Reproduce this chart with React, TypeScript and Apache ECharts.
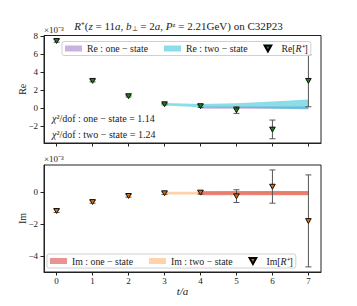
import React, { useEffect, useRef } from "react";
import * as echarts from "echarts";

// ---- data (values in units of 1e-3) ----
const tValues = [0, 1, 2, 3, 4, 5, 6, 7];
const reValues = [7.51, 3.07, 1.37, 0.47, 0.26, -0.19, -2.34, 3.07];
const reErrors = [0.15, 0.12, 0.1, 0.08, 0.15, 0.37, 1.04, 2.89];
const imValues = [-1.17, -0.61, -0.23, -0.06, -0.02, -0.25, 0.35, -1.8];
const imErrors = [0.1, 0.08, 0.08, 0.08, 0.1, 0.4, 1.04, 2.88];

const reOneT = [4, 5, 6, 7];
const reOneLo = [-0.05, -0.05, -0.05, -0.05];
const reOneHi = [0.22, 0.22, 0.22, 0.22];
const reTwoT = [3, 4, 5, 6, 7];
const reTwoLo = [0.33, 0.13, 0.08, -0.02, -0.13];
const reTwoHi = [0.6, 0.48, 0.56, 0.75, 0.98];

const imOneT = [4, 5, 6, 7];
const imOneLo = [-0.19, -0.19, -0.19, -0.19];
const imOneHi = [0.07, 0.07, 0.07, 0.07];
const imTwoT = [3, 4, 5, 6, 7];
const imTwoLo = [-0.14, -0.14, -0.15, -0.16, -0.17];
const imTwoHi = [0.02, 0.03, 0.04, 0.05, 0.06];

const xTicks = [0, 1, 2, 3, 4, 5, 6, 7];
const reTicks = [-2, 0, 2, 4, 6, 8];
const imTicks = [-4, -2, 0];

const FONT = "Liberation Serif";
const AXIS_COLOR = "#222";

const fmt = (v: number) => (v < 0 ? "\u2212" + Math.abs(v) : String(v));

function bandSeries(name: string, idx: number, ts: number[], lo: number[], hi: number[], color: string) {
  return {
    type: "custom",
    name,
    xAxisIndex: idx,
    yAxisIndex: idx,
    itemStyle: { color },
    data: ts.map((t, i) => [t, lo[i], hi[i]]),
    renderItem: (params: any, api: any) => {
      if (params.dataIndex !== 0) return null;
      const up = ts.map((t, i) => api.coord([t, hi[i]]));
      const dn = ts.map((t, i) => api.coord([t, lo[i]])).reverse();
      return {
        type: "polygon",
        shape: { points: up.concat(dn) },
        style: { fill: color, stroke: "none" },
      };
    },
  };
}

function errSeries(name: string, idx: number, vals: number[], errs: number[], color: string) {
  return {
    type: "custom",
    name,
    xAxisIndex: idx,
    yAxisIndex: idx,
    itemStyle: { color, borderColor: "#000", borderWidth: 0.6 },
    data: tValues.map((t, i) => [t, vals[i], errs[i]]),
    renderItem: (params: any, api: any) => {
      const t = api.value(0);
      const v = api.value(1);
      const e = api.value(2);
      const c = api.coord([t, v]);
      const top = api.coord([t, v + e]);
      const bot = api.coord([t, v - e]);
      const ls = { stroke: "#555", lineWidth: 1 };
      return {
        type: "group",
        children: [
          { type: "line", shape: { x1: c[0], y1: top[1], x2: c[0], y2: bot[1] }, style: ls },
          { type: "line", shape: { x1: c[0] - 3, y1: top[1], x2: c[0] + 3, y2: top[1] }, style: ls },
          { type: "line", shape: { x1: c[0] - 3, y1: bot[1], x2: c[0] + 3, y2: bot[1] }, style: ls },
          {
            type: "polygon",
            shape: { points: [[c[0] - 2.8, c[1] - 2.3], [c[0] + 2.8, c[1] - 2.3], [c[0], c[1] + 2.6]] },
            style: { fill: color, stroke: "#111", lineWidth: 1 },
          },
        ],
      };
    },
  };
}

export default function App() {
  const ref = useRef<HTMLDivElement>(null);
  useEffect(() => {
    if (!ref.current) return;
    const chart = echarts.init(ref.current, null, { renderer: "svg" });

    const xAxisBase = (gridIndex: number, showLabels: boolean) => ({
      type: "value",
      gridIndex,
      min: -0.35,
      max: 7.35,
      splitLine: { show: false },
      axisLine: { show: true, onZero: false, lineStyle: { color: AXIS_COLOR, width: 1 } },
      axisTick: { show: true, customValues: xTicks, length: 3.5, lineStyle: { color: AXIS_COLOR } },
      axisLabel: {
        show: showLabels,
        customValues: xTicks,
        margin: 4,
        fontFamily: FONT,
        fontSize: 9,
        color: "#222",
        formatter: fmt,
      },
      name: showLabels ? "t/a" : "",
      nameLocation: "middle",
      nameGap: 13,
      nameMoveOverlap: false,
      nameTextStyle: { fontFamily: FONT, fontSize: 11, fontStyle: "italic", color: "#222" },
    });

    const yAxisBase = (gridIndex: number, min: number, max: number, ticks: number[], name: string) => ({
      type: "value",
      gridIndex,
      min,
      max,
      splitLine: { show: false },
      axisLine: { show: true, onZero: false, lineStyle: { color: AXIS_COLOR, width: 1 } },
      axisTick: { show: true, customValues: ticks, length: 3.5, lineStyle: { color: AXIS_COLOR } },
      axisLabel: {
        customValues: ticks,
        margin: 6,
        fontFamily: FONT,
        fontSize: 9,
        color: "#222",
        formatter: fmt,
      },
      name,
      nameLocation: "middle",
      nameGap: 17,
      nameRotate: 90,
      nameMoveOverlap: false,
      nameTextStyle: { fontFamily: FONT, fontSize: 10, color: "#222" },
    });

    const legendCommon = {
      orient: "horizontal",
      padding: [2, 3, 2, 3],
      itemGap: 16,
      itemWidth: 17,
      itemHeight: 6,
      borderColor: "#d0d0d0",
      borderWidth: 1,
      borderRadius: 2,
      backgroundColor: "rgba(255,255,255,0.85)",
      selectedMode: false,
      textStyle: {
        fontFamily: FONT,
        fontSize: 9.8,
        color: "#222",
        rich: {
          n: { fontFamily: FONT, fontSize: 9.8, color: "#222" },
          i: { fontFamily: FONT, fontSize: 9.8, fontStyle: "italic", color: "#222" },
        },
      },
      formatter: (name: string) => {
        if (name === "Re[R\u207A]") return "{n|Re[}{i|R}{n|\u207A]}";
        if (name === "Im[R\u207A]") return "{n|Im[}{i|R}{n|\u207A]}";
        return name;
      },
    };

    const option: any = {
      animation: false,
      title: {
        left: "center",
        top: 14,
        text:
          "{i|R}{n|\u207A(}{i|z}{n| = 11}{i|a}{n|, }{i|b}{s|\u22A5}{n| = 2}{i|a}{n|, }{i|P}{n|\u1DBB = 2.21GeV) on C32P23}",
        textStyle: {
          fontFamily: FONT,
          fontSize: 11,
          fontWeight: "normal",
          color: "#222",
          rich: {
            n: { fontFamily: FONT, fontSize: 11, color: "#222" },
            i: { fontFamily: FONT, fontSize: 11, fontStyle: "italic", color: "#222" },
            s: { fontFamily: FONT, fontSize: 7, color: "#222", padding: [6, 0, 0, 0] },
          },
        },
      },
      grid: [
        { left: 44, top: 35.5, width: 277, height: 107.5, show: true, borderColor: AXIS_COLOR, borderWidth: 1, containLabel: false },
        { left: 44, top: 165, width: 277, height: 107, show: true, borderColor: AXIS_COLOR, borderWidth: 1, containLabel: false },
      ],
      xAxis: [xAxisBase(0, false), xAxisBase(1, true)],
      yAxis: [yAxisBase(0, -3.85, 8.1, reTicks, "Re"), yAxisBase(1, -5.0, 1.7, imTicks, "Im")],
      legend: [
        {
          ...legendCommon,
          left: 62,
          top: 41.5,
          data: [
            { name: "Re : one \u2212 state", icon: "rect" },
            { name: "Re : two \u2212 state", icon: "rect" },
            { name: "Re[R\u207A]", icon: "path://M0,0L10,0L5,9Z" },
          ],
        },
        {
          ...legendCommon,
          left: 47,
          top: 254,
          data: [
            { name: "Im : one \u2212 state", icon: "rect" },
            { name: "Im : two \u2212 state", icon: "rect" },
            { name: "Im[R\u207A]", icon: "path://M0,0L10,0L5,9Z" },
          ],
        },
      ],
      graphic: [
        {
          type: "text",
          left: 44,
          top: 25,
          style: { text: "\u00D710\u207B\u00B3", font: `9px "${FONT}"`, fill: "#222" },
        },
        {
          type: "text",
          left: 44,
          top: 154,
          style: { text: "\u00D710\u207B\u00B3", font: `9px "${FONT}"`, fill: "#222" },
        },
        {
          type: "text",
          left: 52,
          top: 113,
          style: {
            text: "{i|\u03C7}{n|\u00B2/dof : one \u2212 state = 1.14}",
            rich: {
              n: { fontFamily: FONT, fontSize: 10, fill: "#222" },
              i: { fontFamily: FONT, fontSize: 10, fontStyle: "italic", fill: "#222" },
            },
          },
        },
        {
          type: "text",
          left: 52,
          top: 129,
          style: {
            text: "{i|\u03C7}{n|\u00B2/dof : two \u2212 state = 1.24}",
            rich: {
              n: { fontFamily: FONT, fontSize: 10, fill: "#222" },
              i: { fontFamily: FONT, fontSize: 10, fontStyle: "italic", fill: "#222" },
            },
          },
        },
      ],
      series: [
        bandSeries("Re : one \u2212 state", 0, reOneT, reOneLo, reOneHi, "rgba(148,103,189,0.5)"),
        bandSeries("Re : two \u2212 state", 0, reTwoT, reTwoLo, reTwoHi, "rgba(23,190,207,0.5)"),
        errSeries("Re[R\u207A]", 0, reValues, reErrors, "#1a7f1a"),
        bandSeries("Im : two \u2212 state", 1, imTwoT, imTwoLo, imTwoHi, "rgba(255,127,14,0.35)"),
        bandSeries("Im : one \u2212 state", 1, imOneT, imOneLo, imOneHi, "rgba(214,39,40,0.5)"),
        errSeries("Im[R\u207A]", 1, imValues, imErrors, "#dc6a00"),
      ],
    };
    chart.setOption(option);
    return () => chart.dispose();
  }, []);

  return (
    <div
      ref={ref}
      style={{ position: "fixed", left: 0, top: 0, width: 357, height: 306, background: "#fff" }}
    />
  );
}
